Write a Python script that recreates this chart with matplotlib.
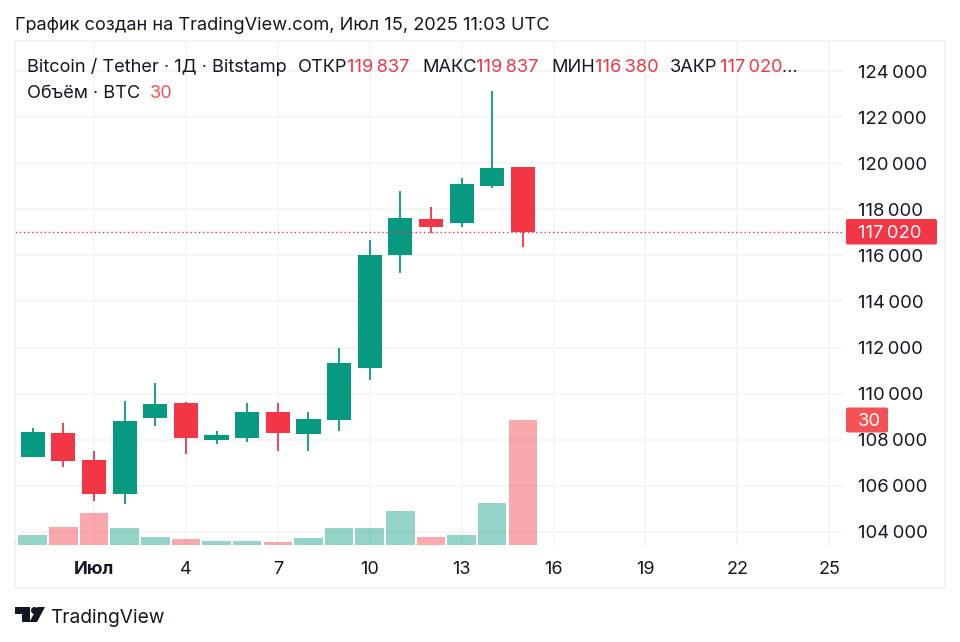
import matplotlib
matplotlib.use("Agg")
import matplotlib.pyplot as plt
from matplotlib.patches import Rectangle, Circle, Polygon, FancyBboxPatch

plt.rcParams["font.family"] = ["Inter", "Noto Sans", "DejaVu Sans"]

W, H = 960, 642

# день относительно 1 июля
days = list(range(-1, 16))
opens = [107240, 108280, 107124, 105660, 108960, 109583, 107990, 108090, 109220,
         108240, 108860, 111115, 116000, 117590, 117420, 119010, 119837]
highs = [108500, 108716, 107530, 109697, 110477, 109640, 108395, 109583, 109610,
         109190, 111980, 116670, 118780, 118110, 119345, 123120, 119837]
lows = [107240, 106806, 105360, 105215, 108600, 107384, 107805, 107905, 107530,
        107530, 108380, 110595, 115250, 116970, 117245, 118940, 116380]
closes = [108350, 107080, 105660, 108815, 109540, 108090, 108195, 109220, 108280,
          108915, 111330, 116000, 117620, 117230, 119110, 119780, 117020]

vol_days = list(range(-2, 16))
volumes = [1.2, 2.4, 4.25, 7.7, 4.0, 2.0, 1.44, 0.9, 1.03, 0.72, 1.75, 4.1, 4.1,
           8.2, 1.9, 2.5, 10.0, 30.0]
vol_up = [True, True, False, False, True, True, False, True, True, False, True,
          True, True, True, False, True, True, False]

price_ticks = [104000 + 2000 * i for i in range(11)]
day_ticks = [1, 4, 7, 10, 13, 16, 19, 22, 25]
day_labels = ["Июл", "4", "7", "10", "13", "16", "19", "22", "25"]

GREEN = "#089981"
RED = "#f23645"
GRID = "#f3f4f6"
FRAME = "#f0f1f3"
TEXT = "#131722"


def fmt(v):
    return f"{v:,}".replace(",", "\u2009")


fig = plt.figure(figsize=(W / 100, H / 100), dpi=100, facecolor="white")

# панель графика в пикселях: 15..843 по x, 41..545 по y
left, right, top, bottom = 15, 843, 41, 545
ax = fig.add_axes([left / W, 1 - bottom / H, (right - left) / W, (bottom - top) / H])
ax.set_xlim(-1.579, 25.45)
ax.set_ylim(103436, 125301)
for s in ax.spines.values():
    s.set_visible(False)
ax.tick_params(length=0, labelleft=False, labelbottom=False)
ax.set_yticks(price_ticks)
ax.set_xticks(day_ticks)
ax.grid(True, color=GRID, lw=1.3)
ax.set_axisbelow(True)

# объём
vol = ax.inset_axes([0, 0, 1, 1], sharex=ax)
vol.set_ylim(0, 504 / 4.17)
vol.axis("off")
vol.set_zorder(1)
vol.bar(vol_days, volumes, width=0.93, alpha=0.43,
        color=[GREEN if u else RED for u in vol_up])

# свечи
price = ax.inset_axes([0, 0, 1, 1], sharex=ax, sharey=ax)
price.axis("off")
price.set_zorder(2)
for d, o, h, l, c in zip(days, opens, highs, lows, closes):
    col = GREEN if c >= o else RED
    price.vlines(d, l, h, color=col, lw=1.3, zorder=2)
    price.bar(d, abs(c - o), bottom=min(o, c), width=0.79, color=col, zorder=3)
price.axhline(closes[-1], color=RED, lw=1, ls=(0, (1, 2)), zorder=4)

# слой подписей поверх графика, координаты в пикселях
bg = fig.add_axes([0, 0, 1, 1])
bg.set_xlim(0, W)
bg.set_ylim(H, 0)
bg.axis("off")
bg.set_zorder(5)

bg.add_patch(Rectangle((15, 41), 930, 547, fill=False, ec=FRAME, lw=1.2))

# подписи шкал
for p in price_ticks:
    y = 534 - (p - 104000) * 0.02305
    bg.text(858, y, fmt(p), fontsize=13.3, color=TEXT, va="center", ha="left")
for d, t in zip(day_ticks, day_labels):
    x = 94 + (d - 1) * 30.63
    bg.text(x, 570, t, fontsize=13, color=TEXT, ha="center", va="center",
            fontweight="bold" if t == "Июл" else "normal")

# плашки значений
bg.add_patch(FancyBboxPatch((846, 219), 91, 25.5, boxstyle="round,pad=0,rounding_size=2",
                            fc=RED, ec="none", zorder=5))
bg.text(858, 234, fmt(closes[-1]), fontsize=13.3, color="white", va="center", zorder=6)
bg.add_patch(FancyBboxPatch((846, 407.5), 42, 25, boxstyle="round,pad=0,rounding_size=2",
                            fc="#f45256", ec="none", zorder=5))
bg.text(858, 422, "30", fontsize=13.3, color="white", va="center", zorder=6)

# заголовок и легенда
bg.text(15, 26, "График создан на TradingView.com, Июл 15, 2025 11:03 UTC",
        fontsize=13.1, color=TEXT, va="center")
legend = [(27, "Bitcoin / Tether · 1Д · Bitstamp", TEXT),
          (298, "ОТКР", TEXT), (347, fmt(opens[-1]), RED),
          (422, "МАКС", TEXT), (476, fmt(highs[-1]), RED),
          (551, "МИН", TEXT), (595, fmt(lows[-1]), RED),
          (670, "ЗАКР", TEXT), (720, fmt(closes[-1]), RED), (782, "…", TEXT)]
for x, t, c in legend:
    bg.text(x, 67, t, fontsize=13.1, color=c, va="center")
bg.text(27, 93, "Объём · BTC", fontsize=13.1, color=TEXT, va="center")
bg.text(150, 93, "30", fontsize=13.1, color="#f45256", va="center")

# логотип TradingView
bg.add_patch(Polygon([(15, 607), (30, 607), (30, 622), (22, 622), (22, 614), (15, 614)],
                     fc=TEXT, ec="none"))
bg.add_patch(Circle((34.5, 610.5), 3.5, fc=TEXT, ec="none"))
bg.add_patch(Polygon([(37, 622), (29.5, 622), (37.5, 607), (45, 607)], fc=TEXT, ec="none"))
bg.text(50.5, 618, "TradingView", fontsize=13.8, color=TEXT, va="center")

fig.savefig("out.png", dpi=100)
